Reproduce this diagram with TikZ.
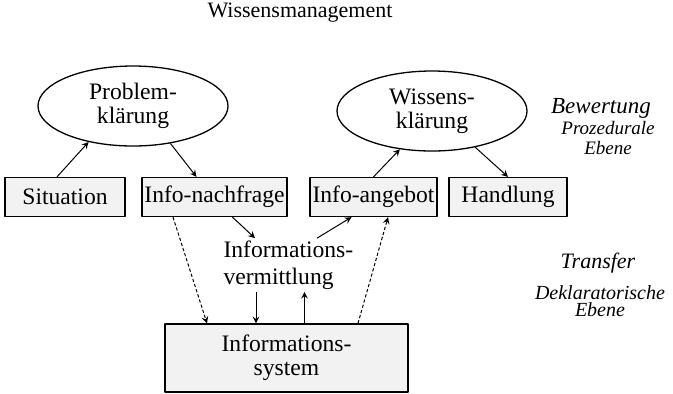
\documentclass[tikz,border=0pt]{standalone}
\usepackage{fontspec}
\setmainfont{Liberation Serif}
\usetikzlibrary{shapes.geometric}
\tikzset{
  box/.style={draw, line width=0.65pt, fill=black!5, minimum height=19.5pt, inner sep=1pt, font=\fontsize{11.8}{13}\selectfont},
  oval/.style={draw, ellipse, line width=0.65pt, minimum width=95pt, minimum height=40pt, inner sep=0pt, align=center, font=\fontsize{11.8}{12}\selectfont},
  dashlink/.style={->, dash pattern=on 1.6pt off 1.1pt},
  ebene/.style={font=\fontsize{11.5}{13}\selectfont\itshape},
  unterebene/.style={align=center, font=\fontsize{9.5}{10}\selectfont\itshape},
}
\begin{document}
\begin{tikzpicture}[x=0.5pt, y=-0.5pt, line join=round, >=stealth, line width=0.5pt]
	\useasboundingbox (0,0) rectangle (673,393);
	\node[font=\fontsize{11}{13}\selectfont] (titel) at (300,13) {Wissensmanagement};
	% obere Ebene
	\node[oval] (prob) at (133,106) {Problem-\\klärung};
	\node[oval] (wiss) at (432,111) {Wissens-\\klärung};
	\node[box, minimum width=60pt] (sit) at (65,197) {Situation};
	\node[box, minimum width=72.5pt] (nach) at (214.5,197) {Info-nachfrage};
	\node[box, minimum width=63.5pt] (ang) at (373.5,197) {Info-angebot};
	\node[box, minimum width=59pt] (hand) at (508,197) {Handlung};
	% untere Ebene
	\node[anchor=west, align=left, inner sep=1pt, font=\fontsize{11.8}{13.5}\selectfont] (verm) at (221,265) {Informations-\\vermittlung};
	\node[box, minimum width=121.5pt, minimum height=34pt, align=center, font=\fontsize{11.8}{12}\selectfont] (sys) at (286.5,358) {Informations-\\system};
	% Pfeile
	\draw[->] ([xshift=-4pt]sit.north) -- (prob.219);
	\draw[->] (prob.315) -- ([xshift=-9pt]nach.north);
	\draw[->] (ang.north) -- (wiss.230);
	\draw[->] (wiss.320) -- (hand.north);
	\draw[->] ([xshift=9pt]nach.south) -- ([xshift=17pt]verm.north west);
	\draw[->] ([xshift=48pt]verm.north west) -- ([xshift=-11pt]ang.south);
	\draw[dashlink] ([xshift=-20.75pt]nach.south) -- ([xshift=-39.75pt]sys.north);
	\draw[dashlink] ([xshift=35.75pt]sys.north) -- ([xshift=7.25pt]ang.south);
	\coordinate (ab) at ([xshift=-15.25pt]sys.north);
	\coordinate (auf) at ([xshift=9pt]sys.north);
	\draw[->] (ab |- verm.south) -- (ab);
	\draw[->] (auf) -- (auf |- verm.south);
	% Beschriftung rechts
	\node[ebene] (bew) at (601,108) {Bewertung};
	\node[unterebene] (proz) at (608,138) {Prozedurale\\Ebene};
	\node[ebene, font=\fontsize{11}{13}\selectfont\itshape] (trans) at (598,263) {Transfer};
	\node[unterebene, font=\fontsize{10}{8.5}\selectfont\itshape] (dekl) at (600,301.5) {Deklaratorische\\Ebene};
\end{tikzpicture}
\end{document}
